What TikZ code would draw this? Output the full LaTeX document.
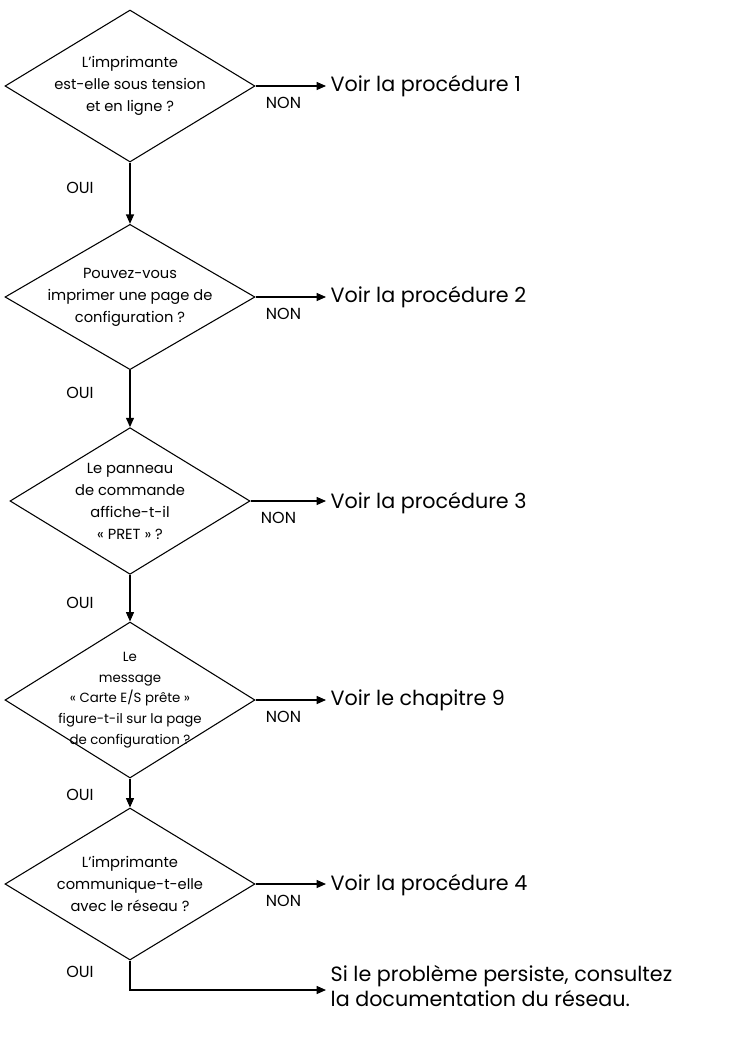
\documentclass[tikz,border=0pt]{standalone}
\usepackage{fontspec}
\setmainfont{Poppins}
\usetikzlibrary{shapes.geometric,arrows.meta}
\begin{document}
\begin{tikzpicture}[x=0.75pt,y=-0.75pt,
    dia/.style={draw,thick,diamond,minimum width=187.5pt,minimum height=114pt,inner sep=0pt},
    qtext/.style={align=center,font=\fontsize{11}{16.5}\selectfont},
    lab/.style={font=\fontsize{12}{14}\selectfont},
    goal/.style={anchor=west,align=left,font=\fontsize{15.5}{19}\selectfont},
    arr/.style={thick,-{Triangle[length=7pt,width=6pt]}}]
    \useasboundingbox (0,0) rectangle (748,1040);
    % questions
    \node[dia] (d1) at (130,86) {};
    \node[qtext] (q1) at (d1) {L'imprimante\\est-elle sous tension\\et en ligne ?};
    \node[dia,minimum height=109pt] (d2) at (130,297) {};
    \node[qtext] (q2) at (d2) {Pouvez-vous\\imprimer une page de\\configuration ?};
    \node[dia,minimum width=180pt,minimum height=110pt] (d3) at (130,501) {};
    \node[qtext] (q3) at (d3) {Le panneau\\de commande\\affiche-t-il\\« PRET » ?};
    \node[dia,minimum height=117pt] (d4) at (130,700) {};
    \node[qtext,font=\fontsize{10}{15.5}\selectfont] (q4) at (d4) {Le\\message\\« Carte E/S prête »\\figure-t-il sur la page\\de configuration ?};
    \node[dia,minimum height=114pt] (d5) at (130,884) {};
    \node[qtext] (q5) at (d5) {L'imprimante\\communique-t-elle\\avec le réseau ?};
    % answers
    \node[goal] (g1) at (326,86) {Voir la procédure 1};
    \node[goal] (g2) at (326,297) {Voir la procédure 2};
    \node[goal] (g3) at (326,503) {Voir la procédure 3};
    \node[goal] (g4) at (326,700) {Voir le chapitre 9};
    \node[goal] (g5) at (326,885) {Voir la procédure 4};
    \node[goal] (g6) at (326,986) {Si le problème persiste, consultez\\la documentation du réseau.};
    \coordinate (c6) at (130,990);
    % connectors
    \foreach \i in {1,...,5}
    {
        \draw[arr] (d\i.east) -- (d\i.east -| g\i.west);
        \node[lab] at ([xshift=21pt,yshift=-13pt]d\i.east) {NON};
    }
    \foreach \i/\j in {1/2,2/3,3/4,4/5}
    {
        \draw[arr] (d\i.south) -- (d\j.north);
    }
    \node[lab] at (80,188) {OUI};
    \node[lab] at (80,393) {OUI};
    \node[lab] at (80,603) {OUI};
    \node[lab] at (80,795) {OUI};
    \node[lab] at (80,972) {OUI};
    \draw[arr] (d5.south) -- (c6) -- (g6.west |- c6);
\end{tikzpicture}
\end{document}
